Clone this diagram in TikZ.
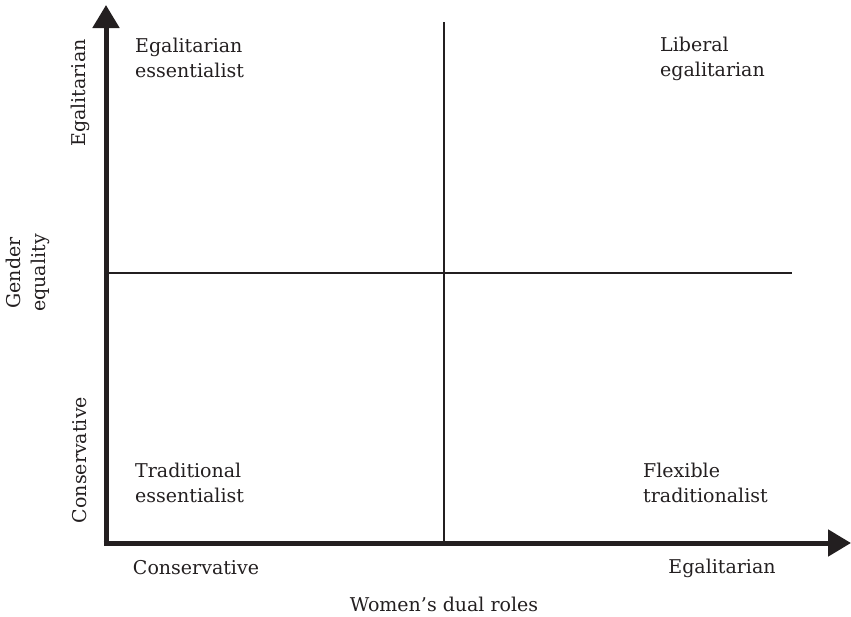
\documentclass[tikz,border=0pt]{standalone}
\usepackage{fontspec}
\setmainfont{DejaVu Serif}
\usetikzlibrary{arrows.meta}
\definecolor{ink}{HTML}{231F20}
\begin{document}
\begin{tikzpicture}[x=1pt,y=-1pt,
  lbl/.style={text=ink,font=\fontsize{19}{25}\selectfont,inner sep=0pt},
  quad/.style={lbl,align=left,anchor=west},
  axis/.style={draw=ink,line width=5pt,-{Triangle[length=23pt,width=26pt]}},
  divider/.style={draw=ink,line width=1.3pt}]
\useasboundingbox (0,0) rectangle (851,616);
\coordinate (O) at (106,543);
\coordinate (ytip) at (106,5);
\coordinate (xtip) at (851,543);
\draw[axis] ([yshift=2.5pt]O) -- (ytip);
\draw[axis] ([xshift=-2.5pt]O) -- (xtip);
\coordinate (vtop) at (444,22);
\coordinate (vbot) at (444,543);
\coordinate (hl) at (106,273);
\coordinate (hr) at (792,273);
\draw[divider] (vtop) -- (vbot);
\draw[divider] (hl) -- (hr);
\node[quad] (ee) at (135,57.5) {Egalitarian\\essentialist};
\node[quad] (le) at (660,58.5) {Liberal\\egalitarian};
\node[quad] (te) at (135,482.5) {Traditional\\essentialist};
\node[quad] (ft) at (643,482.5) {Flexible\\traditionalist};
\node[lbl,rotate=90] (yeg) at (80,93) {Egalitarian};
\node[lbl,rotate=90] (yco) at (80,460) {Conservative};
\node[lbl,rotate=90,align=center] (yt) at (28,273) {Gender\\equality};
\node[lbl] (xco) at (196,568) {Conservative};
\node[lbl] (xeg) at (722,568) {Egalitarian};
\node[lbl] (xt) at (444,604) {Women’s dual roles};
\end{tikzpicture}
\end{document}
